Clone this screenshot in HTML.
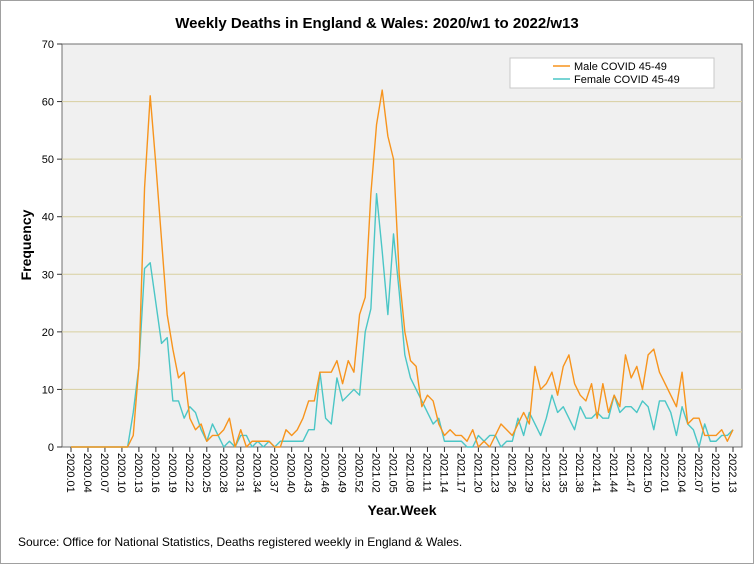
<!DOCTYPE html>
<html><head><meta charset="utf-8"><style>
body{margin:0;background:#fff;}
svg{display:block;font-family:"Liberation Sans",sans-serif;}
</style></head><body>
<svg width="754" height="564" viewBox="0 0 754 564" id="chart">
<rect x="0.5" y="0.5" width="753" height="563" fill="#fff" stroke="#a0a0a0"/>
<text x="377" y="28" text-anchor="middle" font-size="15" font-weight="bold">Weekly Deaths in England &amp; Wales: 2020/w1 to 2022/w13</text>
<rect x="62" y="44" width="680" height="403" fill="#f0f0f0" stroke="#707070"/>
<g id="grid"></g><g id="yticks"></g><g id="xticks"></g><g id="series"></g>
<text transform="translate(31,245) rotate(-90)" text-anchor="middle" font-size="14" font-weight="bold">Frequency</text>
<text x="402" y="515" text-anchor="middle" font-size="14" font-weight="bold">Year.Week</text>
<text x="18" y="546" font-size="12">Source: Office for National Statistics, Deaths registered weekly in England &amp; Wales.</text>
<g>
<rect x="510" y="58" width="204" height="30" fill="#fff" stroke="#c8c8c8"/>
<line x1="553" y1="66" x2="570" y2="66" stroke="#f7941d" stroke-width="1.5"/>
<text x="574" y="70" font-size="11">Male COVID 45-49</text>
<line x1="553" y1="79" x2="570" y2="79" stroke="#4bc6c6" stroke-width="1.5"/>
<text x="574" y="83" font-size="11">Female COVID 45-49</text>
</g>
</svg>
<script>
const male=[0,0,0,0,0,0,0,0,0,0,0,2,14,45,61,49,36,23,17,12,13,5,3,4,1,2,2,3,5,0,3,0,1,1,1,1,0,0,3,2,3,5,8,8,13,13,13,15,11,15,13,23,26,44,56,62,54,50,30,20,15,14,7,9,8,4,2,3,2,2,1,3,0,1,0,2,4,3,
2,4,6,4,14,10,11,13,9,14,16,11,9,8,11,5,11,6,9,7,16,12,14,10,16,17,13,11,9,7,13,4,5,5,2,2,2,3,1,3];
const female=[0,0,0,0,0,0,0,0,0,0,0,6,14,31,32,25,18,19,8,8,5,7,6,3,1,4,2,0,1,0,2,2,0,1,0,1,0,1,1,1,1,1,3,3,13,5,4,12,8,9,10,9,20,24,44,34,23,37,27,16,12,10,8,6,4,5,1,1,1,1,0,0,2,1,2,2,0,1,
1,5,2,6,4,2,5,9,6,7,5,3,7,5,5,6,5,5,9,6,7,7,6,8,7,3,8,8,6,2,7,4,3,0,4,1,1,2,2,3];
const yTicks=[0,10,20,30,40,50,60,70];
const weeks=[];
for(let i=0;i<53;i++)weeks.push("2020."+String(i+1).padStart(2,"0"));
for(let i=0;i<52;i++)weeks.push("2021."+String(i+1).padStart(2,"0"));
for(let i=0;i<13;i++)weeks.push("2022."+String(i+1).padStart(2,"0"));
const NS="http://www.w3.org/2000/svg";
const X0=71,X1=733,Y0=447,Y1=44;
const xs=i=>X0+(X1-X0)*i/(weeks.length-1);
const ys=v=>Y0-(Y0-Y1)*v/70;
function mk(t,a,p){const e=document.createElementNS(NS,t);for(const k in a)e.setAttribute(k,a[k]);p.appendChild(e);return e;}
const grid=document.getElementById('grid'),yt=document.getElementById('yticks'),xt=document.getElementById('xticks'),ser=document.getElementById('series');
yTicks.forEach(v=>{
 if(v>0&&v<70){const g=mk('line',{x1:62,x2:742,y1:ys(v),y2:ys(v),stroke:'#d8cfa0','stroke-width':1},grid);
 
 }
 const tk=mk('line',{x1:57,x2:62,y1:ys(v),y2:ys(v),stroke:'#333'},yt);
 
 
 const t=mk('text',{x:54,y:ys(v)+4,'text-anchor':'end','font-size':11},yt);t.textContent=v;
 
 
});
for(let i=0;i<weeks.length;i+=3){
 const x=xs(i);
 const tk=mk('line',{x1:x,x2:x,y1:447,y2:452,stroke:'#333'},xt);
 
 
 const t=mk('text',{transform:`translate(${x-4},453) rotate(90)`,'font-size':11},xt);t.textContent=weeks[i];
 
 
}
function line(d,c,n){
 const p=mk('polyline',{points:d.map((v,i)=>xs(i)+','+ys(v)).join(' '),fill:'none',stroke:c,'stroke-width':1.4,'stroke-linejoin':'round'},ser);
 
 
}
line(female,'#4bc6c6','female-line');
line(male,'#f7941d','male-line');
</script>
</body></html>
